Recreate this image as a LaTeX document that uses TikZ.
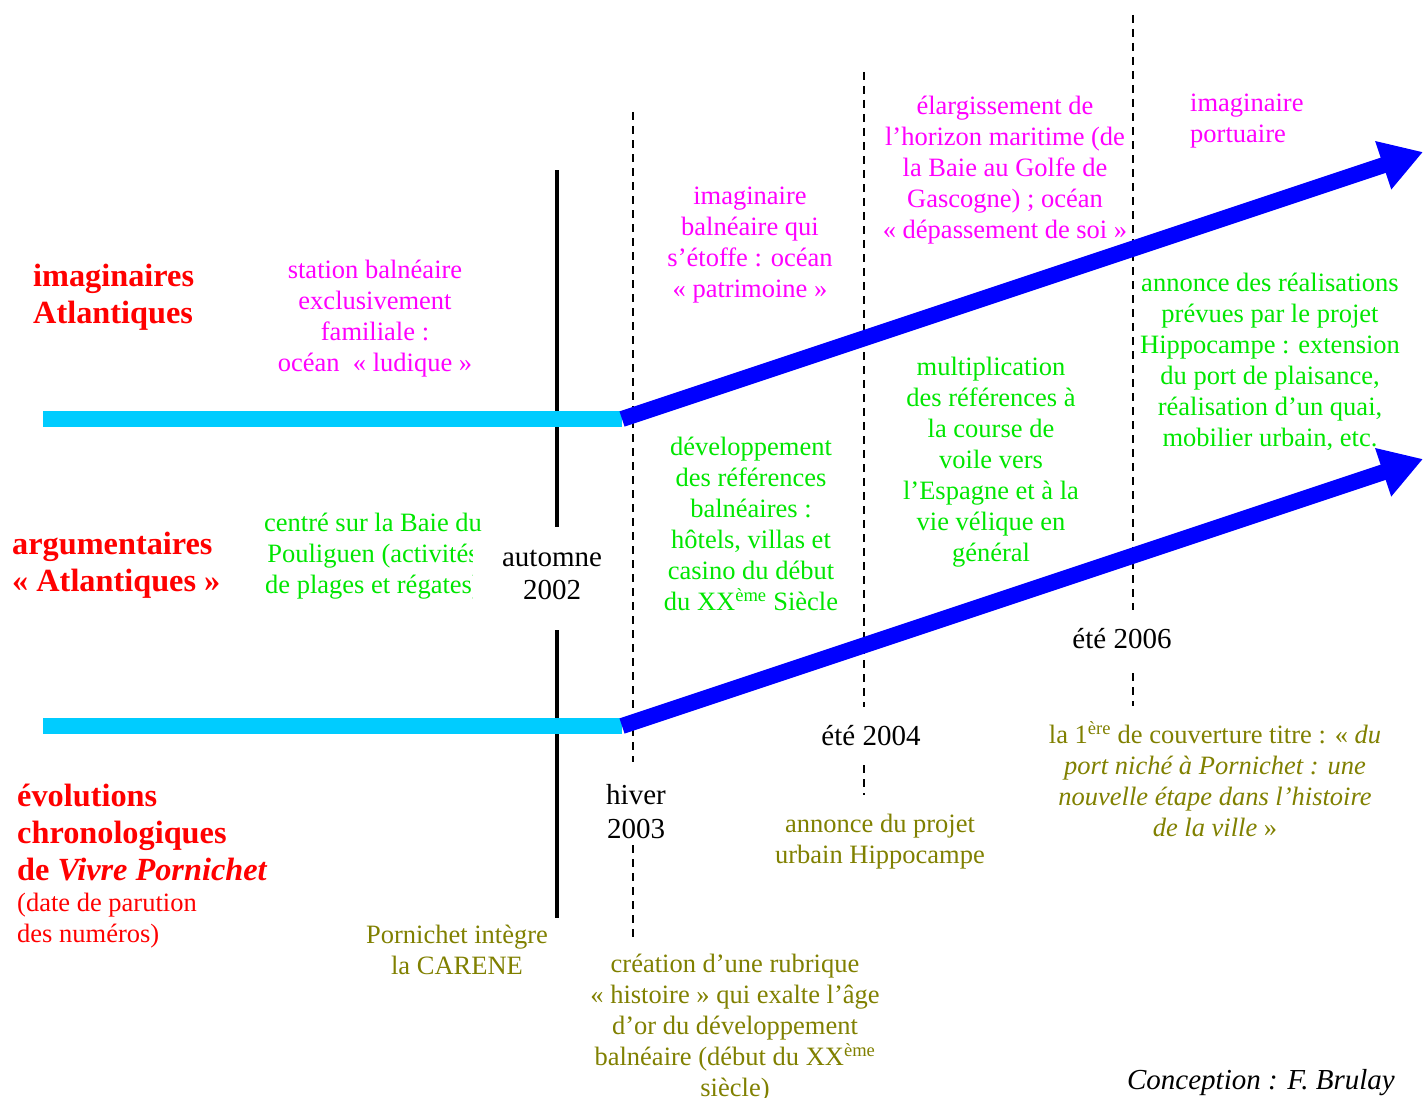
\documentclass[tikz,border=0pt]{standalone}
\usepackage{fontspec}
\setmainfont{Liberation Serif}
\usetikzlibrary{positioning, arrows.meta}

\definecolor{titlered}{RGB}{255,0,0}
\definecolor{imagpink}{RGB}{255,0,255}
\definecolor{argugreen}{RGB}{0,230,0}
\definecolor{chronoolive}{RGB}{128,128,0}
\definecolor{oldcyan}{RGB}{0,204,255}
\definecolor{newblue}{RGB}{0,0,255}

\begin{document}
\begin{tikzpicture}[
    x=1pt, y=-1pt,
    font=\fontsize{26.5}{31}\selectfont,
    theme/.style={
        text=titlered, align=left, anchor=west,
        inner sep=0pt,
        font=\fontsize{32.3}{37}\selectfont\bfseries
    },
    imag/.style={text=imagpink, align=center, inner sep=0pt},
    argu/.style={text=argugreen, align=center, inner sep=0pt},
    chrono/.style={text=chronoolive, align=center, inner sep=0pt},
    datelbl/.style={text=black, align=center, inner sep=0pt,
        font=\fontsize{29}{33.5}\selectfont},
    before/.style={draw=oldcyan, line width=16pt},
    after/.style={draw=newblue, line width=16pt,
        -{Triangle[length=42pt, width=48pt]}},
    season/.style={draw=black, line width=4pt},
    issue/.style={draw=black, line width=2.2pt, dash pattern=on 8pt off 6pt}
]
\useasboundingbox (0,0) rectangle (1423,1097);

% ===================== ROW TITLES =====================
\node[theme] (imagtitle) at (33,297) {imaginaires\\Atlantiques};
\node[theme] (argutitle) at (12,565) {argumentaires\\« Atlantiques »};
\node[theme] (evol) at (17,833)
{évolutions\\chronologiques\\de \textit{Vivre Pornichet}};
\node[text=titlered, align=left, inner sep=0pt, anchor=north west]
  (parution) at ([yshift=-11pt]evol.south west) {(date de parution\\des numéros)};

% ===================== DATES =====================
\node[datelbl] (aut02) at (552,575) {automne\\2002};
\node[datelbl] (hiv03) at (636,811.5) {hiver\\2003};
\node[datelbl] (ete04) at (871,736) {été 2004};
\node[datelbl] (ete06) at (1122,639) {été 2006};

% ===================== TIME MARKS =====================
\draw[season] (557,170) -- (557,527);
\draw[season] (557,630) -- (557,918);
\draw[issue] (633,112) -- (633,762);
\draw[issue] (633,845) -- (633,940);
\draw[issue] (864,72) -- (864,707);
\draw[issue] (864,765) -- (864,795);
\draw[issue] (1133,15) -- (1133,610);
\draw[issue] (1133,673) -- (1133,706);

% ===================== TRENDS =====================
\coordinate (imagstart) at (43,419);
\coordinate (imagbend) at (622,419);
\coordinate (imagtip) at (1423,152);
\coordinate (argustart) at (43,726);
\coordinate (argubend) at (622,726);
\coordinate (argutip) at (1423,459);

\draw[before] (imagstart) -- (imagbend);
\draw[after] (imagbend) -- (imagtip);
\draw[before] (argustart) -- (argubend);
\draw[after] (argubend) -- (argutip);

% ===================== IMAGINAIRES =====================
\node[imag] (ludique) at (375,318.5)
{station balnéaire\\exclusivement\\familiale :\\océan ~« ludique »};
\node[imag] (patrimoine) at (750,245.5)
{imaginaire\\balnéaire qui\\s’étoffe : océan\\« patrimoine »};
\node[imag] (horizon) at (1005,170)
{élargissement de\\l’horizon maritime (de\\la Baie au Golfe de\\Gascogne) ; océan\\« dépassement de soi »};
\node[imag, align=left, anchor=west] (portuaire) at (1190,121.5)
{imaginaire\\portuaire};

% ===================== ARGUMENTAIRES =====================
% text box cut on its right side, as in the original
\begin{scope}
  \clip (0,480) -- (481,480) -- (481,538) -- (472,538) -- (472,620) -- (0,620) -- cycle;
  \node[argu] (baie) at (373,556)
  {centré sur la Baie du\\Pouliguen (activités\\de plages et régates)};
\end{scope}
\node[argu] (references) at (751,524)
{développement\\des références\\balnéaires :\\hôtels, villas et\\casino du début\\du XX\textsuperscript{ème} Siècle};
\node[argu] (voile) at (991,462)
{multiplication\\des références à\\la course de\\voile vers\\l’Espagne et à la\\vie vélique en\\général};
\node[argu] (realisations) at (1270,362)
{annonce des réalisations\\prévues par le projet\\Hippocampe : extension\\du port de plaisance,\\réalisation d’un quai,\\mobilier urbain, etc.};

% ===================== CHRONOLOGIE =====================
\node[chrono] (carene) at (457,950) {Pornichet intègre\\la CARENE};
\node[chrono] (rubrique) at (735,1028)
{création d’une rubrique\\« histoire » qui exalte l’âge\\d’or du développement\\balnéaire (début du XX\textsuperscript{ème}\\siècle)};
\node[chrono] (hippocampe) at (880,842) {annonce du projet\\urbain Hippocampe};
\node[chrono] (couverture) at (1215,779)
{la 1\textsuperscript{ère} de couverture titre : « \textit{du}\\\textit{port niché à Pornichet : une}\\\textit{nouvelle étape dans l’histoire}\\\textit{de la ville} »};

\node[anchor=east, inner sep=0pt, font=\fontsize{29}{34}\selectfont\itshape]
  (credit) at (1395,1083) {Conception : F. Brulay};

\end{tikzpicture}
\end{document}
